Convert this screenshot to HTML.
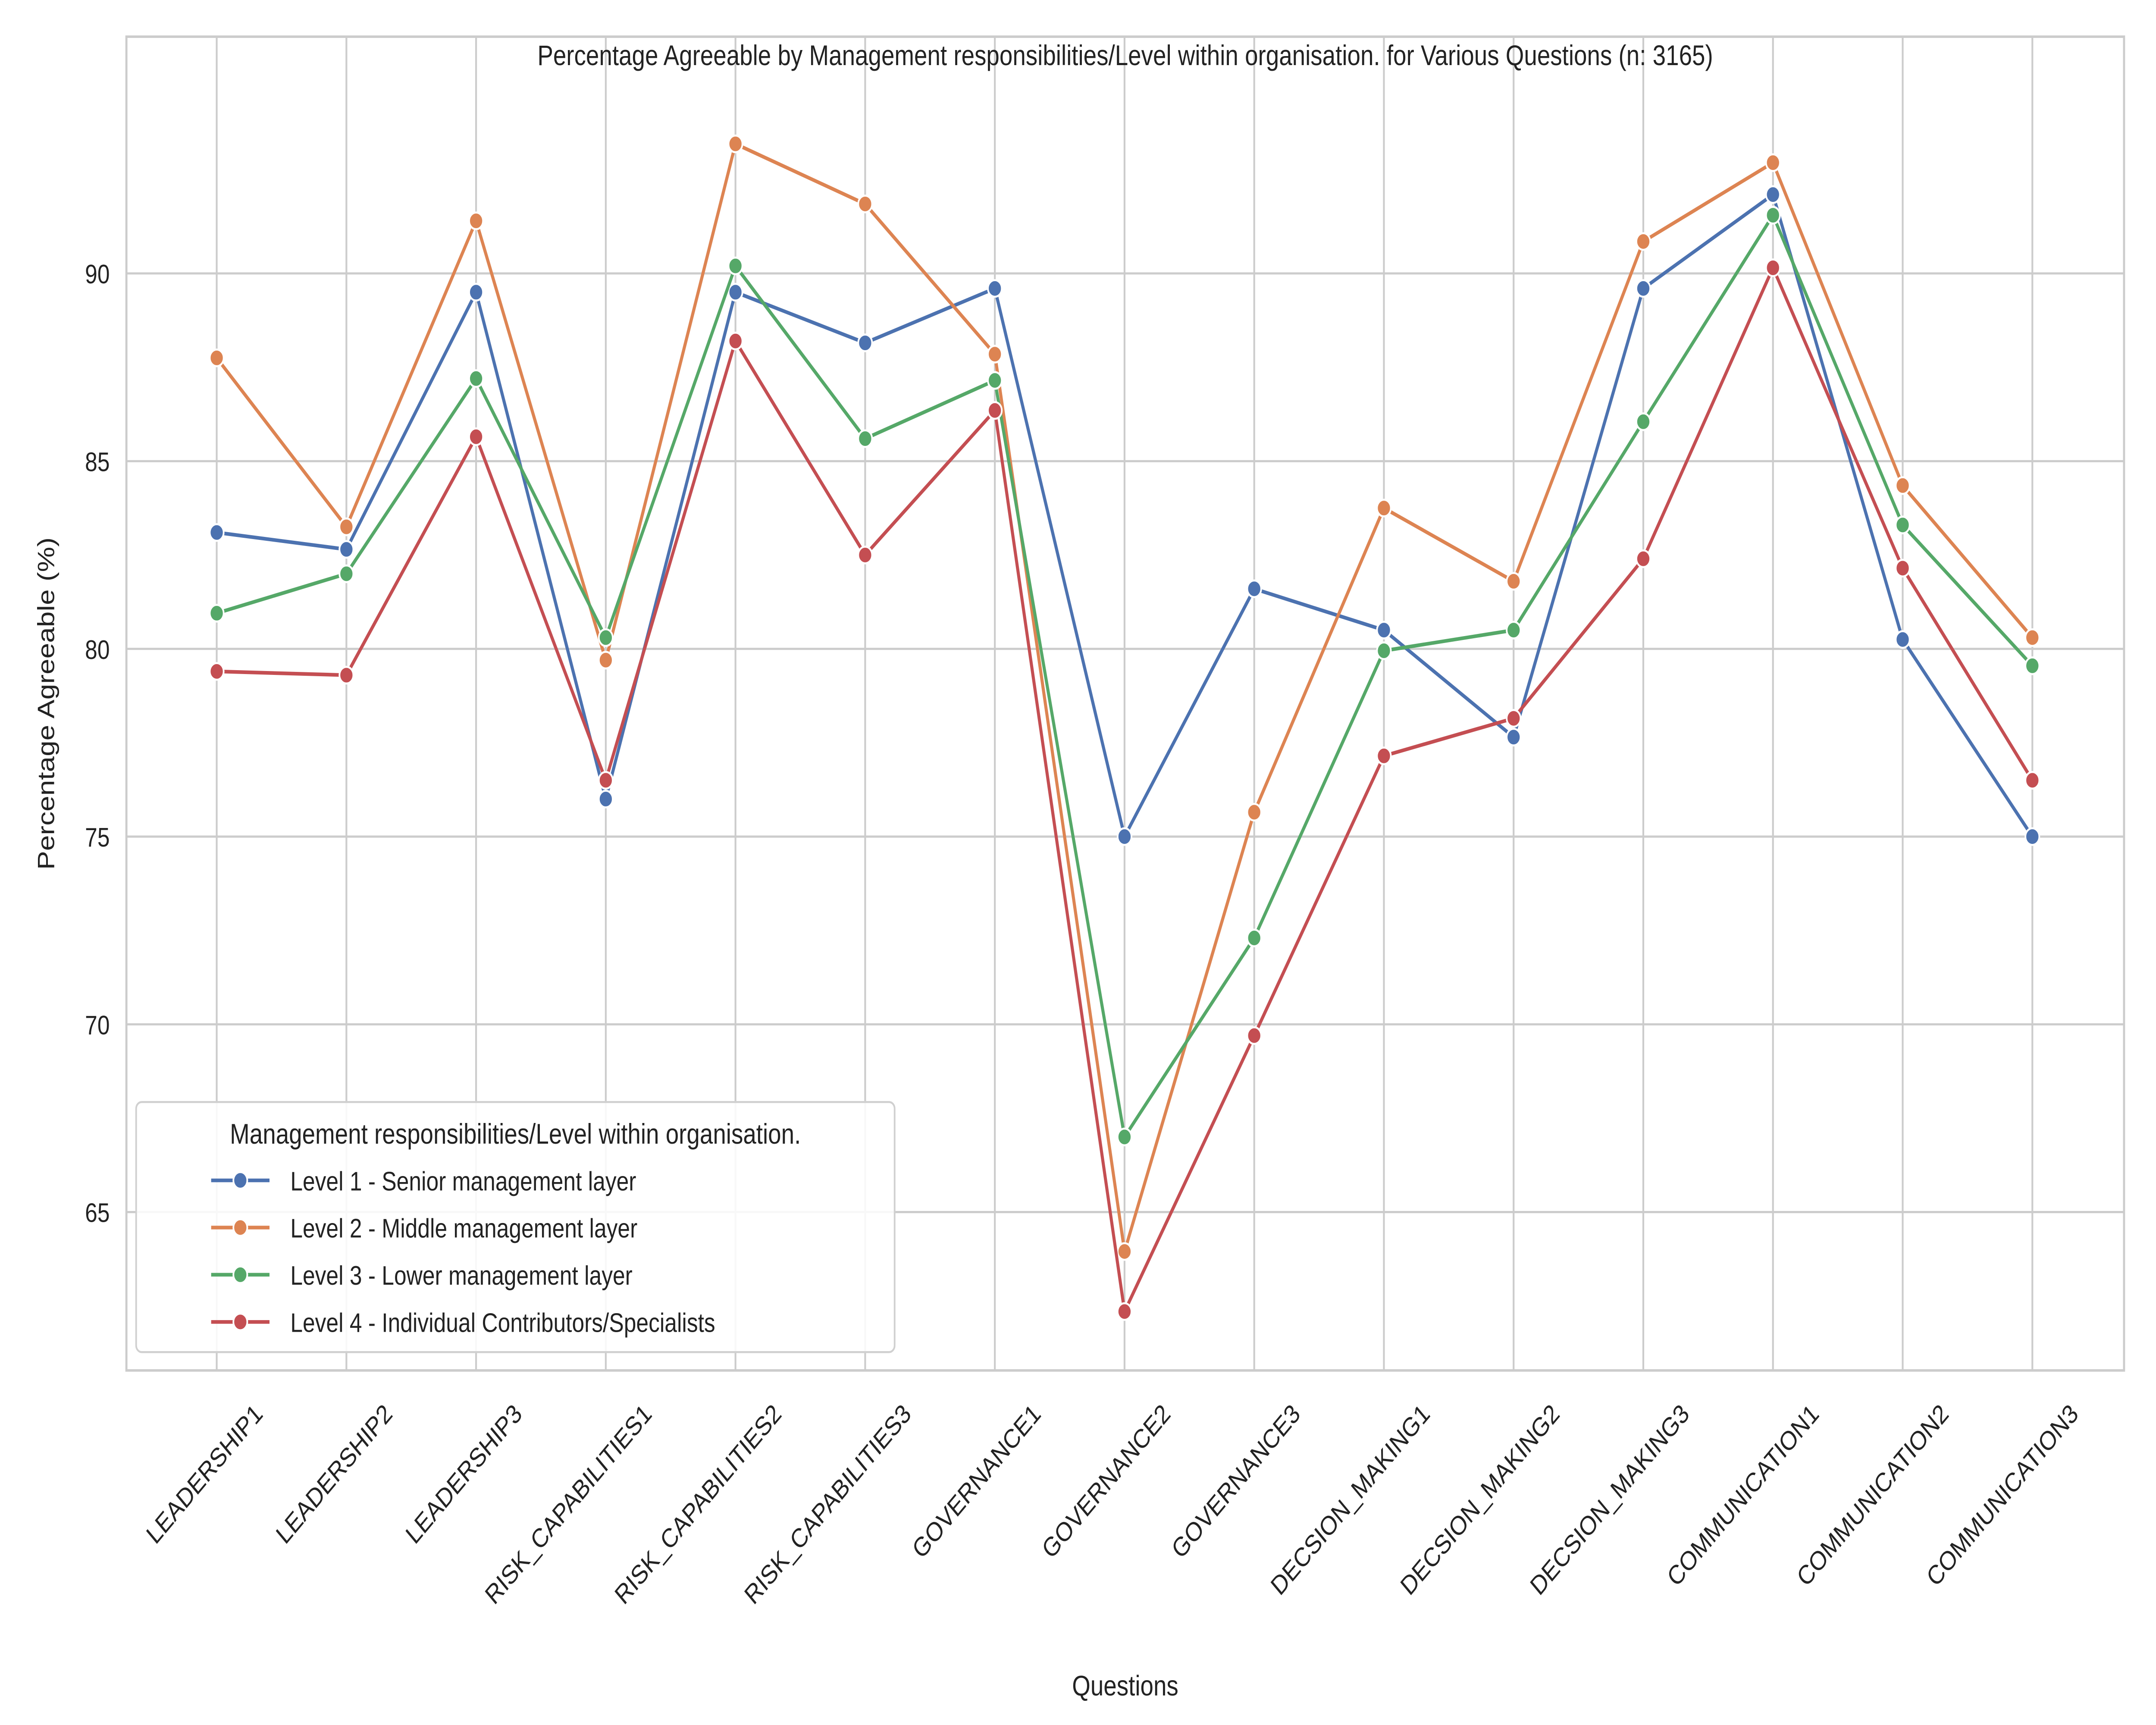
<!DOCTYPE html>
<html><head><meta charset="utf-8"><style>
html,body{margin:0;padding:0;background:#fff;overflow:hidden;width:100%;height:100%;}
svg{display:block;position:absolute;left:0;top:0;width:100vw;height:100vh;font-family:"Liberation Sans",Arial,sans-serif;}
</style></head><body>
<svg id="chart" viewBox="0 0 1552 1034.67" preserveAspectRatio="none" xmlns="http://www.w3.org/2000/svg">
<rect x="0" y="0" width="1552" height="1035" fill="#fff"/>
<g id="grid"></g>
<g id="series"></g>
<g id="axes"></g>
<text x="810" y="39" font-size="17" text-anchor="middle" fill="#222">Percentage Agreeable by Management responsibilities/Level within organisation. for Various Questions (n: 3165)</text>
<text x="810" y="1017" font-size="17" text-anchor="middle" fill="#222">Questions</text>
<text transform="translate(39,422) rotate(-90)" font-size="17" text-anchor="middle" fill="#222">Percentage Agreeable (%)</text>
<g id="legend"></g>
</svg>
<script>
const categories = ["LEADERSHIP1","LEADERSHIP2","LEADERSHIP3","RISK_CAPABILITIES1","RISK_CAPABILITIES2","RISK_CAPABILITIES3","GOVERNANCE1","GOVERNANCE2","GOVERNANCE3","DECSION_MAKING1","DECSION_MAKING2","DECSION_MAKING3","COMMUNICATION1","COMMUNICATION2","COMMUNICATION3"];
const seriesNames = ["Level 1 - Senior management layer","Level 2 - Middle management layer","Level 3 - Lower management layer","Level 4 - Individual Contributors/Specialists"];
const level1 = [83.1,82.65,89.5,76.0,89.5,88.15,89.6,75.0,81.6,80.5,77.65,89.6,92.1,80.25,75.0];
const level2 = [87.75,83.25,91.4,79.7,93.45,91.85,87.85,63.95,75.65,83.75,81.8,90.85,92.95,84.35,80.3];
const level3 = [80.95,82.0,87.2,80.3,90.2,85.6,87.15,67.0,72.3,79.95,80.5,86.05,91.55,83.3,79.55];
const level4 = [79.4,79.3,85.65,76.5,88.2,82.5,86.35,62.35,69.7,77.15,78.15,82.4,90.15,82.15,76.5];
const yTicks = [65,70,75,80,85,90];

const NS="http://www.w3.org/2000/svg";
const colors=["#4c72b0","#dd8452","#55a868","#c44e52"];
const L=91,R=1529,T=22,B=822;
const x=i=>156+i*(1463-156)/(categories.length-1);
const y=v=>164+(90-v)*22.52;
function mk(tag,attrs,parent){const e=document.createElementNS(NS,tag);for(const k in attrs)e.setAttribute(k,attrs[k]);parent.appendChild(e);return e;}
const grid=document.getElementById('grid'),axes=document.getElementById('axes'),ser=document.getElementById('series'),leg=document.getElementById('legend');
categories.forEach((c,i)=>{
  const gl=mk('line',{x1:x(i),x2:x(i),y1:T,y2:B,stroke:'#cccccc','stroke-width':1.3},grid);
  
  
  const t=mk('text',{transform:`translate(${x(i)+34},849) rotate(-45)`,'font-size':16,'text-anchor':'end',fill:'#222'},axes);
  t.textContent=c;
  
  
});
yTicks.forEach(v=>{
  const gl=mk('line',{x1:L,x2:R,y1:y(v),y2:y(v),stroke:'#cccccc','stroke-width':1.3},grid);
  
  
  const t=mk('text',{x:79,y:y(v)+6,'font-size':16,'text-anchor':'end',fill:'#222'},axes);
  t.textContent=v;
  
  
});
const frame=mk('rect',{x:L,y:T,width:R-L,height:B-T,fill:'none',stroke:'#cccccc','stroke-width':1.5},axes);


[level1,level2,level3,level4].forEach((d,s)=>{
  const g=mk('g',{},ser);
  
  
  const pl=mk('polyline',{points:d.map((v,i)=>x(i)+','+y(v)).join(' '),fill:'none',stroke:colors[s],'stroke-width':2.2},g);
  
  
  d.forEach((v,i)=>{
    const c=mk('circle',{cx:x(i),cy:y(v),r:5,fill:colors[s],stroke:'#fff','stroke-width':1.2},g);
    
    
  });
});
const lb=mk('rect',{x:98,y:661,width:546,height:150,rx:4,fill:'#fff','fill-opacity':0.85,stroke:'#d0d0d0','stroke-width':1.2},leg);


const lt=mk('text',{x:371,y:686,'font-size':17,'text-anchor':'middle',fill:'#222'},leg);
lt.textContent="Management responsibilities/Level within organisation.";


seriesNames.forEach((n,s)=>{
  const yy=708+s*28.3;
  const g=mk('g',{},leg);
  
  
  mk('line',{x1:152,x2:194,y1:yy,y2:yy,stroke:colors[s],'stroke-width':2.2},g);
  mk('circle',{cx:173,cy:yy,r:5,fill:colors[s],stroke:'#fff','stroke-width':1.2},g);
  const t=mk('text',{x:209,y:yy+6,'font-size':16,fill:'#222'},g);
  t.textContent=n;
});
</script>
</body></html>
